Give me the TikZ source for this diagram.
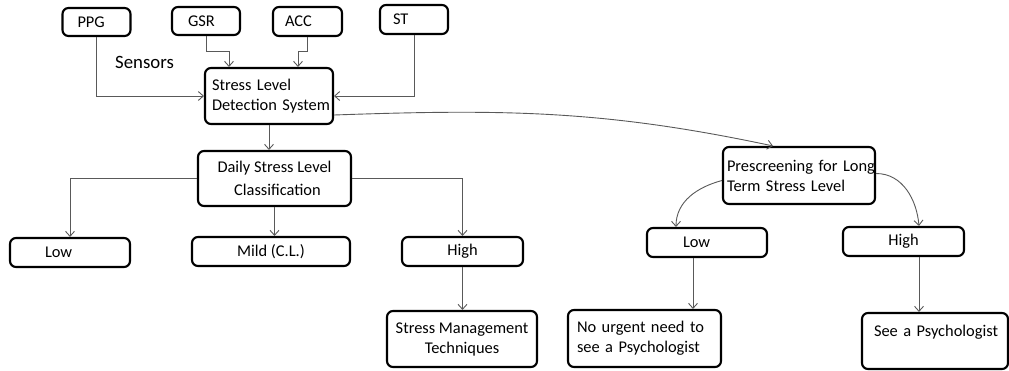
\documentclass[tikz,border=0pt]{standalone}
\usepackage{fontspec}
\setmainfont{Carlito}
\usetikzlibrary{arrows.meta}
\begin{document}
\begin{tikzpicture}[x=1pt, y=-1pt,
  box/.style={draw, line width=2.1pt, rounded corners=6pt, inner ysep=2pt, font=\fontsize{16.4}{20}\selectfont},
  conn/.style={draw=black!65, line width=0.9pt, -{Straight Barb[length=5pt,width=9pt]}}]
\useasboundingbox (0,0) rectangle (1009,370);
\node[box, align=left, text width=38pt, inner xsep=15pt, minimum height=28pt] (ppg) at (96.5,22) {PPG};
\node[box, align=left, text width=36pt, inner xsep=16pt, minimum height=28pt] (gsr) at (206,21) {GSR};
\node[box, align=left, text width=45pt, inner xsep=12pt, minimum height=29pt] (acc) at (307.5,21.5) {ACC};
\node[box, align=left, text width=42pt, inner xsep=13pt, minimum height=29pt] (st) at (414,19.5) {ST};
\node[font=\fontsize{18.8}{22}\selectfont] (sensors) at (144.5,62) {Sensors};
\node[box, align=left, text width=114pt, inner xsep=7pt, minimum height=56pt] (sld) at (269,96) {Stress Level\\\mbox{Detection System}};
\node[box, align=center, minimum width=153pt, minimum height=55pt] (dsl) at (274.5,178.5) {Daily Stress Level\\[3pt]\hspace*{6pt}Classification};
\node[box, align=left, text width=50pt, inner xsep=35pt, minimum height=29pt] (low) at (70,252.5) {Low};
\node[box, align=center, minimum width=158pt, minimum height=29pt] (mild) at (271,251.5) {Mild (C.L.)};
\node[box, align=center, minimum width=121pt, minimum height=29pt] (high) at (462.5,251.5) {High};
\node[box, align=center, minimum width=150pt, minimum height=56pt] (smt) at (462,339) {Stress Management\\Techniques};
\node[box, align=left, text width=144pt, inner xsep=4pt, minimum height=57pt] (pre) at (799,175.5) {\mbox{Prescreening for Long}\\\mbox{Term Stress Level}};
\node[box, align=left, text width=48pt, inner xsep=36pt, minimum height=29pt] (lowb) at (707,242.5) {Low};
\node[box, align=center, minimum width=121pt, minimum height=29pt] (highb) at (903.5,241.5) {High};
\node[box, align=left, text width=135pt, inner xsep=9pt, minimum height=57pt] (noneed) at (644.5,338.5) {\mbox{No urgent need to}\\\mbox{see a Psychologist}};
\node[box, align=left, text width=122pt, inner xsep=12pt, minimum height=56pt] (seepsy) at (935,341) {\mbox{See a Psychologist}\\\mbox{}};
\draw[conn] (ppg.south) |- (sld.west);
\draw[conn] (gsr.south) -- ++(0,15) -| ([xshift=-40pt]sld.north);
\draw[conn] (acc.south) -- ++(0,14) -| ([xshift=29pt]sld.north);
\draw[conn] (st.south) |- (sld.east);
\draw[conn] (sld.south) -- (sld.south |- dsl.north);
\draw[conn] (dsl.west) -| (low.north);
\draw[conn] (dsl.south) -- (dsl.south |- mild.north);
\draw[conn] (dsl.east) -| (high.north);
\draw[conn] (high.south) -- (high.south |- smt.north);
\draw[conn] ([yshift=-19pt]sld.east) to[out=2, in=168] ([xshift=-26pt]pre.north);
\draw[conn] ([yshift=-5pt]pre.west) to[out=195, in=90] ([xshift=-31pt]lowb.north);
\draw[conn] ([yshift=2pt]pre.east) to[out=0, in=95] ([xshift=15.5pt]highb.north);
\coordinate (lowtap) at ([xshift=-14pt]lowb.south);
\draw[conn] (lowtap) -- (lowtap |- noneed.north);
\coordinate (hightap) at ([xshift=15.5pt]highb.south);
\draw[conn] (hightap) -- (hightap |- seepsy.north);
\end{tikzpicture}
\end{document}
